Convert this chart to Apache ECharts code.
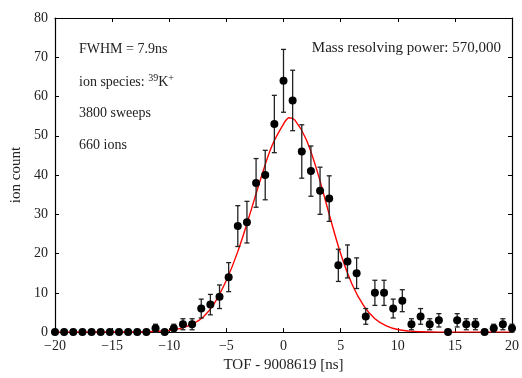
<!DOCTYPE html>
<html>
<head>
<meta charset="utf-8">
<script src="https://cdn.jsdelivr.net/npm/echarts@6/dist/echarts.min.js"></script>
<style>
  html, body { margin: 0; padding: 0; background: #fff; }
  #chart { width: 522px; height: 378px; }
</style>
</head>
<body>
<div id="chart"></div>
<script>
var tof = [
  -20, -19.2, -18.4, -17.6, -16.8, -16, -15.2, -14.4, -13.6, -12.8,
  -12, -11.2, -10.4, -9.6, -8.8, -8, -7.2, -6.4, -5.6, -4.8,
  -4, -3.2, -2.4, -1.6, -0.8, 0, 0.8, 1.6, 2.4, 3.2,
  4, 4.8, 5.6, 6.4, 7.2, 8, 8.8, 9.6, 10.4, 11.2,
  12, 12.8, 13.6, 14.4, 15.2, 16, 16.8, 17.6, 18.4, 19.2, 20
];
var counts = [
  0, 0, 0, 0, 0, 0, 0, 0, 0, 0,
  0, 1, 0, 1, 2, 2, 6, 7, 9, 14,
  27, 28, 38, 40, 53, 64, 59, 46, 41, 36,
  34, 17, 18, 15, 4, 10, 10, 6, 8, 2,
  4, 2, 3, 0, 3, 2, 2, 0, 1, 2, 1
];
var errors = [
  0, 0, 0, 0, 0, 0, 0, 0, 0, 0,
  0, 1, 0, 1, 1.4, 1.4, 2.4, 2.6, 3, 3.7,
  5.2, 5.3, 6.2, 6.3, 7.3, 8, 7.7, 6.8, 6.4, 6,
  5.8, 4.1, 4.2, 3.9, 2, 3.2, 3.2, 2.4, 2.8, 1.4,
  2, 1.4, 1.7, 0, 1.7, 1.4, 1.4, 0, 1, 1.4, 1
];

// fitted curve, sampled from the red line
var fitX = [-20, -13, -12, -11, -10, -9, -8, -7, -6, -5, -4, -3, -2, -1, 0, 0.5, 1, 2, 3, 4, 5, 6, 7, 8, 9, 10, 11, 12, 13, 14, 20];
var fitY = [0, 0.02, 0.08, 0.2, 0.45, 0.95, 2, 3.9, 7.6, 13.2, 20.5, 29.5, 39, 47.5, 53, 54.6, 54, 49, 40.5, 30, 20, 12.2, 6.8, 3.4, 1.6, 0.65, 0.25, 0.08, 0.02, 0, 0];

var xTicks = { min: -20, max: 20, interval: 5 };
var yTicks = { min: 0, max: 80, interval: 10 };

var FONT = '"Liberation Serif", "Times New Roman", serif';

var points = tof.map(function (x, i) { return [x, counts[i]]; });
var bars = tof.map(function (x, i) { return [x, counts[i] - errors[i], counts[i] + errors[i]]; });
var fit = fitX.map(function (x, i) { return [x, fitY[i]]; });

var chart = echarts.init(document.getElementById('chart'), null, { renderer: 'canvas' });

var axisLine = { show: true, onZero: false, lineStyle: { color: '#000', width: 1.2 } };
var tick = { show: true, inside: true, length: 4, lineStyle: { color: '#000', width: 1 } };

var option = {
  animation: false,
  backgroundColor: '#fff',
  grid: { left: 55, right: 8, top: 18, bottom: 41 },
  xAxis: [{
    type: 'value',
    min: xTicks.min, max: xTicks.max, interval: xTicks.interval,
    name: 'TOF - 9008619 [ns]',
    nameLocation: 'middle',
    nameGap: 19,
    nameTextStyle: { fontFamily: FONT, fontSize: 15, color: '#222', verticalAlign: 'top' },
    axisLine: axisLine,
    axisTick: tick,
    splitLine: { show: false },
    axisLabel: {
      fontFamily: FONT, fontSize: 14, color: '#222', margin: 7,
      formatter: function (v) { return v < 0 ? '\u2212' + (-v) : String(v); }
    }
  }, {
    type: 'value', position: 'top',
    min: xTicks.min, max: xTicks.max, interval: xTicks.interval,
    axisLine: axisLine, axisTick: tick,
    axisLabel: { show: false }, splitLine: { show: false }
  }],
  yAxis: [{
    type: 'value',
    min: yTicks.min, max: yTicks.max, interval: yTicks.interval,
    name: 'ion count',
    nameLocation: 'middle',
    nameGap: 31,
    nameTextStyle: { fontFamily: FONT, fontSize: 15, color: '#222' },
    axisLine: axisLine,
    axisTick: tick,
    splitLine: { show: false },
    axisLabel: { fontFamily: FONT, fontSize: 14, color: '#222', margin: 7 }
  }, {
    type: 'value', position: 'right',
    min: yTicks.min, max: yTicks.max, interval: yTicks.interval,
    axisLine: axisLine, axisTick: tick,
    axisLabel: { show: false }, splitLine: { show: false }
  }],
  graphic: [
    { type: 'text', left: 79, top: 42, style: { text: 'FWHM = 7.9ns', font: '14px ' + FONT, fill: '#222' } },
    {
      type: 'text', left: 79, top: 73,
      style: {
        text: '{a|ion species: }{s|39}{a|K}{s|+}',
        fill: '#222',
        rich: {
          a: { fontFamily: FONT, fontSize: 14, fill: '#222', verticalAlign: 'bottom', lineHeight: 16 },
          s: { fontFamily: FONT, fontSize: 10, fill: '#222', verticalAlign: 'top', lineHeight: 10 }
        }
      }
    },
    { type: 'text', left: 79, top: 106, style: { text: '3800 sweeps', font: '14px ' + FONT, fill: '#222' } },
    { type: 'text', left: 79, top: 138, style: { text: '660 ions', font: '14px ' + FONT, fill: '#222' } },
    { type: 'text', right: 21, top: 41, style: { text: 'Mass resolving power: 570,000', font: '15px ' + FONT, fill: '#222' } }
  ],
  series: [{
    type: 'line',
    data: fit,
    smooth: 0.35,
    showSymbol: false,
    lineStyle: { color: '#ff0000', width: 1.4 },
    z: 2
  }, {
    type: 'custom',
    data: bars,
    z: 3,
    renderItem: function (params, api) {
      var lo = api.value(1), hi = api.value(2);
      if (hi - lo <= 0) return null;
      var top = api.coord([api.value(0), hi]);
      var bot = api.coord([api.value(0), lo]);
      var cap = 2.5;
      var st = { stroke: '#222', lineWidth: 1.3 };
      return {
        type: 'group',
        children: [
          { type: 'line', shape: { x1: top[0], y1: top[1], x2: bot[0], y2: bot[1] }, style: st },
          { type: 'line', shape: { x1: top[0] - cap, y1: top[1], x2: top[0] + cap, y2: top[1] }, style: st },
          { type: 'line', shape: { x1: bot[0] - cap, y1: bot[1], x2: bot[0] + cap, y2: bot[1] }, style: st }
        ]
      };
    }
  }, {
    type: 'scatter',
    data: points,
    symbol: 'circle',
    symbolSize: 8,
    clip: false,
    itemStyle: { color: '#000', opacity: 1 },
    z: 4
  }]
};

chart.setOption(option);
</script>
</body>
</html>
